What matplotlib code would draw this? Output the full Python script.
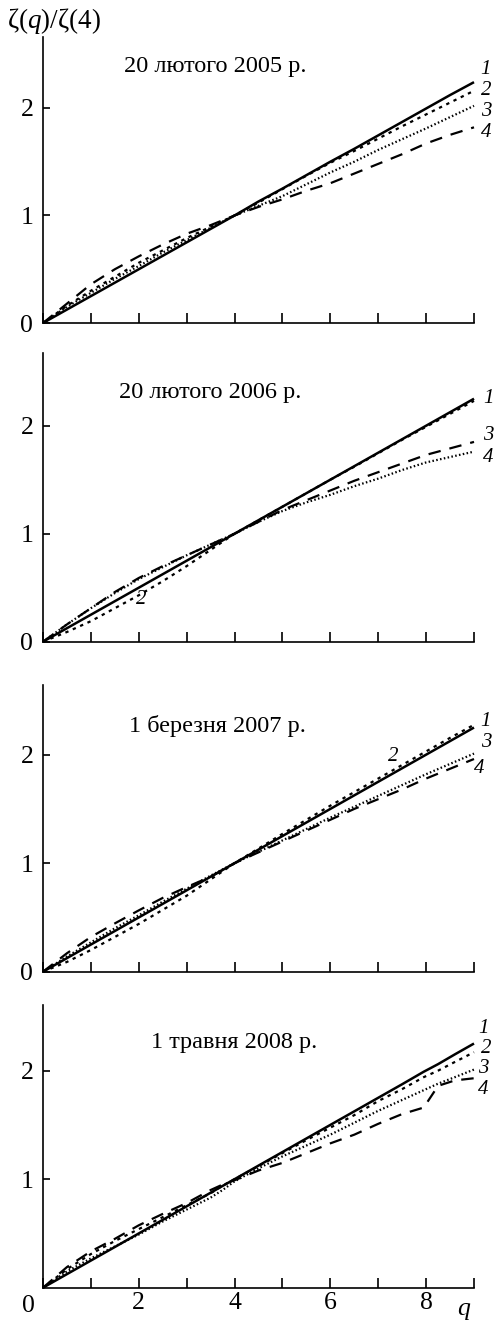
import matplotlib.pyplot as plt

plt.rcParams['font.family'] = 'Liberation Serif'
plt.rcParams['mathtext.fontset'] = 'custom'
plt.rcParams['mathtext.rm'] = 'Liberation Serif'
plt.rcParams['mathtext.it'] = 'Liberation Serif:italic'
plt.rcParams['lines.scale_dashes'] = False

# Moment order q and normalised scaling exponents zeta(q)/zeta(4)
q = [0, 0.5, 1, 1.5, 2, 2.5, 3, 3.5, 4, 4.5, 5, 5.5, 6, 6.5, 7, 7.5, 8, 8.5, 9]
q_2008 = [0, 0.5, 1, 1.5, 2, 2.5, 3, 3.5, 3.75, 4, 4.5, 5, 5.5, 6, 6.5, 7, 7.5, 7.95, 8.25, 8.6, 9]

z1_2005 = [0, 0.125, 0.25, 0.375, 0.5, 0.625, 0.75, 0.875, 1.0, 1.13, 1.25, 1.375, 1.5, 1.62, 1.745, 1.87, 1.995, 2.12, 2.24]
z2_2005 = [0, 0.16, 0.30, 0.43, 0.56, 0.675, 0.79, 0.895, 1.0, 1.12, 1.245, 1.37, 1.49, 1.60, 1.715, 1.83, 1.94, 2.05, 2.16]
z3_2005 = [0, 0.15, 0.28, 0.41, 0.53, 0.655, 0.77, 0.885, 1.0, 1.09, 1.18, 1.29, 1.40, 1.50, 1.61, 1.71, 1.81, 1.915, 2.02]
z4_2005 = [0, 0.18, 0.36, 0.50, 0.62, 0.73, 0.83, 0.91, 1.0, 1.08, 1.15, 1.23, 1.30, 1.39, 1.48, 1.57, 1.67, 1.75, 1.82]

z1_2006 = [0, 0.125, 0.25, 0.375, 0.5, 0.625, 0.75, 0.875, 1.0, 1.125, 1.25, 1.375, 1.5, 1.625, 1.75, 1.875, 2.0, 2.125, 2.25]
z2_2006 = [0, 0.09, 0.19, 0.31, 0.43, 0.56, 0.70, 0.85, 1.0, 1.125, 1.25, 1.375, 1.5, 1.62, 1.745, 1.87, 1.99, 2.11, 2.23]
z3_2006 = [0, 0.16, 0.31, 0.46, 0.59, 0.70, 0.80, 0.90, 1.0, 1.11, 1.22, 1.31, 1.40, 1.49, 1.57, 1.65, 1.73, 1.79, 1.85]
z4_2006 = [0, 0.16, 0.31, 0.45, 0.58, 0.69, 0.80, 0.90, 1.0, 1.11, 1.21, 1.29, 1.36, 1.44, 1.51, 1.59, 1.66, 1.71, 1.76]

z1_2007 = [0, 0.125, 0.25, 0.375, 0.5, 0.625, 0.75, 0.875, 1.0, 1.125, 1.25, 1.375, 1.5, 1.625, 1.75, 1.875, 2.0, 2.125, 2.25]
z2_2007 = [0, 0.09, 0.20, 0.32, 0.44, 0.57, 0.70, 0.85, 1.0, 1.135, 1.27, 1.40, 1.53, 1.655, 1.78, 1.905, 2.03, 2.155, 2.275]
z3_2007 = [0, 0.14, 0.27, 0.40, 0.52, 0.645, 0.765, 0.885, 1.0, 1.105, 1.21, 1.315, 1.42, 1.52, 1.62, 1.72, 1.82, 1.915, 2.01]
z4_2007 = [0, 0.17, 0.32, 0.445, 0.565, 0.68, 0.78, 0.875, 1.0, 1.10, 1.20, 1.30, 1.40, 1.50, 1.59, 1.68, 1.78, 1.87, 1.96]

z1_2008 = [0, 0.125, 0.25, 0.375, 0.5, 0.625, 0.75, 0.875, 0.9375, 1.0, 1.125, 1.25, 1.375, 1.5, 1.625, 1.75, 1.875, 1.99, 2.06, 2.15, 2.25]
z2_2008 = [0, 0.17, 0.31, 0.43, 0.54, 0.65, 0.76, 0.87, 0.94, 1.0, 1.12, 1.24, 1.36, 1.475, 1.59, 1.72, 1.83, 1.94, 2.00, 2.08, 2.17]
z3_2008 = [0, 0.15, 0.27, 0.38, 0.49, 0.61, 0.72, 0.83, 0.90, 0.98, 1.10, 1.21, 1.31, 1.41, 1.52, 1.63, 1.73, 1.82, 1.88, 1.94, 2.01]
z4_2008 = [0, 0.19, 0.335, 0.45, 0.575, 0.68, 0.78, 0.90, 0.95, 0.99, 1.08, 1.15, 1.24, 1.33, 1.41, 1.51, 1.60, 1.66, 1.86, 1.91, 1.93]

dates = ['20 лютого 2005 р.', '20 лютого 2006 р.', '1 березня 2007 р.', '1 травня 2008 р.']
curve_names = ['1', '2', '3', '4']

line_styles = {
    'solid': dict(ls='-', lw=1.8),
    'short': dict(ls=(0, (2.4, 3.4)), lw=1.6),
    'dot': dict(ls=(0, (1.1, 1.7)), lw=1.6),
    'long': dict(ls=(0, (9.0, 6.5)), lw=1.6),
}

# axes rectangle, y limit, curve styles, title position, curve-label positions
panels = [
    dict(rect=[0.086, 0.75567, 0.862, 0.21634], ytop=2.66, q=q,
         curves=[z1_2005, z2_2005, z3_2005, z4_2005],
         styles=['solid', 'short', 'dot', 'long'], title_xy=(3.6, 2.39),
         label_xy=[(9.25, 2.36), (9.25, 2.16), (9.25, 1.965), (9.25, 1.77)]),
    dict(rect=[0.086, 0.51460, 0.862, 0.21860], ytop=2.676, q=q,
         curves=[z1_2006, z2_2006, z3_2006, z4_2006],
         styles=['solid', 'short', 'long', 'dot'], title_xy=(3.5, 2.31),
         label_xy=[(9.3, 2.25), (2.06, 0.39), (9.3, 1.91), (9.3, 1.71)]),
    dict(rect=[0.086, 0.26498, 0.862, 0.21687], ytop=2.642, q=q,
         curves=[z1_2007, z2_2007, z3_2007, z4_2007],
         styles=['solid', 'short', 'dot', 'long'], title_xy=(3.65, 2.26),
         label_xy=[(9.23, 2.31), (7.31, 1.98), (9.25, 2.11), (9.1, 1.87)]),
    dict(rect=[0.086, 0.02595, 0.862, 0.21384], ytop=2.605, q=q_2008,
         curves=[z1_2008, z2_2008, z3_2008, z4_2008],
         styles=['solid', 'short', 'dot', 'long'], title_xy=(4.0, 2.26),
         label_xy=[(9.2, 2.39), (9.25, 2.2), (9.2, 2.02), (9.2, 1.83)]),
]

fig = plt.figure(figsize=(5, 13.22), dpi=100)

for i, (panel, date) in enumerate(zip(panels, dates)):
    ax = fig.add_axes(panel['rect'])
    last = i == len(panels) - 1

    for values, style in zip(panel['curves'], panel['styles']):
        ax.plot(panel['q'], values, color='black', solid_capstyle='butt',
                dash_capstyle='butt', clip_on=False, **line_styles[style])

    for name, (x, y) in zip(curve_names, panel['label_xy']):
        ax.text(x, y, name, fontsize=15, style='italic', ha='center', va='center')

    ax.text(*panel['title_xy'], date, fontsize=17.5, ha='center', va='center')

    ax.set_xlim(0, 9)
    ax.set_ylim(0, panel['ytop'])
    for side in ('top', 'right'):
        ax.spines[side].set_visible(False)
    ax.spines['left'].set_linewidth(1.2)
    ax.spines['bottom'].set_linewidth(1.2)
    ax.spines['bottom'].set_bounds(0, 9)

    ax.set_xticks(range(0, 10))
    if last:
        ax.set_xticklabels(['', '', '2', '', '4', '', '6', '', '8', ''])
        ax.set_yticks([1, 2])
        ax.text(-0.31, -0.17, '0', fontsize=18.5, ha='center', va='center')
        ax.text(8.79, -0.2, 'q', fontsize=18.5, style='italic', ha='center', va='center')
    else:
        ax.set_xticklabels([])
        ax.set_yticks([0, 1, 2])
    ax.tick_params(axis='x', direction='in', length=7, width=1.2, labelsize=18.5, pad=3)
    ax.tick_params(axis='y', direction='in', length=5, width=1.2, labelsize=18.5, pad=7)

fig.text(0.107, 1 - 21 / 1322, r'$\mathrm{\zeta(}q\mathrm{)/\zeta(4)}$',
         fontsize=19.5, ha='center', va='center')

plt.savefig('out.png', dpi=100)
